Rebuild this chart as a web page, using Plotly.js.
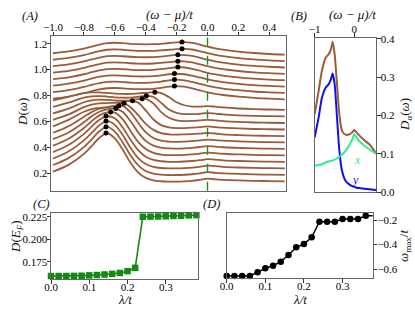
<!DOCTYPE html>
<html><head><meta charset="utf-8">
<script src="https://cdn.plot.ly/plotly-3.0.1.min.js"></script>
<style>html,body{margin:0;padding:0;background:#fff}#plot{width:415px;height:314px}</style>
</head><body><div id="plot"></div>
<script>
// ---------- Panel A: D(omega) for each lambda (raw, before vertical stacking) ----------
const omegaGrid = [-1.0,-0.9,-0.8,-0.75,-0.7,-0.65,-0.6,-0.55,-0.5,-0.45,-0.4,-0.35,-0.3,-0.25,-0.2,-0.15,-0.1,-0.05,0.0,0.05,0.1,0.2,0.3,0.4,0.5];
const lambdas = [0,0.02,0.04,0.06,0.08,0.10,0.12,0.14,0.16,0.18,0.20,0.22,0.24,0.26,0.28,0.30,0.32,0.34,0.36,0.38];
const dos00 = [0.213,0.265,0.350,0.410,0.474,0.509,0.470,0.385,0.285,0.208,0.165,0.146,0.139,0.136,0.136,0.138,0.142,0.150,0.1591,0.154,0.150,0.145,0.142,0.140,0.138];
const dos01 = [0.214,0.267,0.352,0.412,0.474,0.508,0.472,0.390,0.292,0.214,0.168,0.148,0.140,0.137,0.137,0.139,0.143,0.150,0.1591,0.154,0.150,0.145,0.142,0.140,0.138];
const dos02 = [0.214,0.268,0.354,0.412,0.470,0.502,0.474,0.397,0.300,0.220,0.172,0.150,0.141,0.138,0.138,0.140,0.144,0.151,0.1591,0.155,0.150,0.145,0.142,0.140,0.138];
const dos03 = [0.214,0.268,0.354,0.410,0.463,0.490,0.474,0.405,0.312,0.230,0.178,0.153,0.143,0.139,0.139,0.141,0.145,0.151,0.1592,0.155,0.150,0.145,0.142,0.140,0.138];
const dos04 = [0.214,0.267,0.350,0.402,0.447,0.470,0.468,0.418,0.330,0.245,0.188,0.158,0.145,0.140,0.140,0.142,0.146,0.152,0.1594,0.155,0.151,0.146,0.142,0.140,0.138];
const dos05 = [0.214,0.265,0.344,0.390,0.425,0.443,0.450,0.425,0.355,0.268,0.200,0.163,0.148,0.142,0.141,0.143,0.147,0.153,0.1598,0.156,0.151,0.146,0.142,0.140,0.138];
const dos06 = [0.213,0.263,0.336,0.372,0.398,0.410,0.419,0.420,0.372,0.292,0.217,0.172,0.152,0.145,0.143,0.144,0.148,0.154,0.1602,0.156,0.152,0.146,0.142,0.140,0.138];
const dos07 = [0.212,0.262,0.325,0.345,0.355,0.359,0.370,0.391,0.362,0.300,0.232,0.185,0.160,0.151,0.149,0.150,0.152,0.156,0.1608,0.157,0.151,0.145,0.141,0.139,0.137];
const dos08 = [0.212,0.254,0.310,0.330,0.340,0.342,0.344,0.350,0.359,0.345,0.285,0.215,0.172,0.155,0.149,0.149,0.152,0.157,0.1615,0.157,0.152,0.146,0.142,0.140,0.138];
const dos09 = [0.212,0.249,0.298,0.313,0.318,0.316,0.312,0.310,0.313,0.322,0.324,0.288,0.222,0.178,0.159,0.153,0.154,0.158,0.1625,0.158,0.153,0.146,0.142,0.140,0.138];
const dos10 = [0.212,0.245,0.284,0.294,0.296,0.292,0.286,0.283,0.284,0.290,0.298,0.290,0.243,0.192,0.166,0.157,0.156,0.159,0.1645,0.160,0.154,0.147,0.143,0.141,0.139];
const dos11 = [0.212,0.240,0.268,0.274,0.274,0.270,0.265,0.262,0.262,0.266,0.271,0.276,0.268,0.238,0.198,0.175,0.165,0.164,0.1682,0.164,0.158,0.150,0.145,0.142,0.140];
const dos12 = [0.176,0.192,0.218,0.234,0.248,0.256,0.258,0.255,0.251,0.249,0.249,0.252,0.259,0.268,0.273,0.268,0.255,0.240,0.2250,0.213,0.204,0.191,0.182,0.176,0.171];
const dos13 = [0.176,0.191,0.216,0.232,0.246,0.255,0.257,0.254,0.250,0.248,0.248,0.251,0.258,0.267,0.272,0.267,0.255,0.240,0.2251,0.213,0.204,0.191,0.181,0.175,0.170];
const dos14 = [0.176,0.191,0.215,0.231,0.245,0.254,0.256,0.253,0.249,0.247,0.247,0.250,0.256,0.264,0.268,0.264,0.253,0.239,0.2253,0.213,0.204,0.190,0.180,0.174,0.169];
const dos15 = [0.176,0.190,0.214,0.230,0.244,0.254,0.256,0.253,0.249,0.246,0.246,0.248,0.253,0.261,0.268,0.266,0.256,0.241,0.2255,0.213,0.204,0.190,0.180,0.173,0.168];
const dos16 = [0.176,0.190,0.213,0.229,0.243,0.253,0.256,0.253,0.249,0.246,0.245,0.247,0.251,0.258,0.264,0.263,0.255,0.241,0.2258,0.213,0.203,0.189,0.179,0.172,0.167];
const dos17 = [0.176,0.190,0.213,0.228,0.242,0.253,0.256,0.253,0.249,0.246,0.245,0.246,0.250,0.257,0.263,0.262,0.255,0.241,0.2261,0.213,0.203,0.189,0.179,0.172,0.166];
const dos18 = [0.176,0.190,0.212,0.227,0.242,0.253,0.256,0.253,0.248,0.245,0.244,0.245,0.248,0.253,0.258,0.260,0.255,0.242,0.2265,0.214,0.204,0.189,0.178,0.171,0.166];
const dos19 = [0.176,0.190,0.212,0.227,0.243,0.254,0.257,0.254,0.249,0.246,0.245,0.246,0.249,0.255,0.260,0.262,0.256,0.243,0.2268,0.214,0.204,0.189,0.178,0.170,0.165];
// peak positions (panel D) and peak heights
const omegaMax = [-0.657,-0.657,-0.657,-0.657,-0.627,-0.594,-0.573,-0.540,-0.486,-0.423,-0.396,-0.341,-0.214,-0.214,-0.214,-0.192,-0.192,-0.192,-0.165,-0.165];
const peakD = [0.511,0.510,0.504,0.492,0.473,0.450,0.422,0.391,0.360,0.326,0.299,0.276,0.274,0.273,0.269,0.269,0.265,0.264,0.260,0.262];
// panel C: D(E_F)
const dEF = [0.1591,0.1591,0.1591,0.1592,0.1594,0.1598,0.1602,0.1608,0.1615,0.1625,0.1645,0.1682,0.2250,0.2251,0.2253,0.2255,0.2258,0.2261,0.2265,0.2268];
// ---------- Panel B ----------
const bOmega = [-1.0,-0.9,-0.82,-0.72,-0.65,-0.59,-0.546,-0.495,-0.436,-0.376,-0.31,-0.22,-0.12,-0.05,0.0,0.06,0.12,0.25,0.38,0.55];
const bTotal = [0.203,0.264,0.315,0.351,0.359,0.372,0.392,0.359,0.281,0.203,0.160,0.150,0.151,0.156,0.162,0.156,0.149,0.136,0.125,0.102];
const bY = [0.143,0.195,0.245,0.273,0.281,0.294,0.309,0.281,0.195,0.108,0.056,0.030,0.020,0.016,0.0145,0.012,0.011,0.009,0.008,0.006];
const bX = [0.069,0.071,0.073,0.078,0.080,0.082,0.083,0.085,0.088,0.093,0.098,0.108,0.124,0.137,0.151,0.143,0.134,0.122,0.112,0.100];

const dosCurves = [dos00,dos01,dos02,dos03,dos04,dos05,dos06,dos07,dos08,dos09,dos10,dos11,dos12,dos13,dos14,dos15,dos16,dos17,dos18,dos19];
const stackStep = 0.05;
const brown = '#9a5c3a';
const traces = [];
dosCurves.forEach((c, i) => {
  traces.push({x: omegaGrid, y: c.map(v => v + stackStep*i), xaxis:'x', yaxis:'y', mode:'lines',
    line:{color:brown, width:1.8, shape:'spline', smoothing:1}, hoverinfo:'skip'});
});
traces.push({x: omegaMax, y: peakD.map((v,i) => v + stackStep*i), xaxis:'x', yaxis:'y', mode:'markers',
  marker:{color:'#000', size:5}, cliponaxis:false});
// B
traces.push({x:bOmega, y:bTotal, xaxis:'x2', yaxis:'y2', mode:'lines', line:{color:brown, width:2, shape:'spline', smoothing:0.6}});
traces.push({x:bOmega, y:bY, xaxis:'x2', yaxis:'y2', mode:'lines', line:{color:'#1010ee', width:2, shape:'spline', smoothing:0.6}});
traces.push({x:bOmega, y:bX, xaxis:'x2', yaxis:'y2', mode:'lines', line:{color:'#38e88c', width:2, shape:'spline', smoothing:0.4}});
// C
traces.push({x:lambdas, y:dEF, xaxis:'x3', yaxis:'y3', mode:'lines+markers',
  line:{color:'#138a13', width:1.6}, marker:{symbol:'square', size:6.5, color:'#138a13'}, cliponaxis:false});
// D
traces.push({x:lambdas, y:omegaMax, xaxis:'x4', yaxis:'y4', mode:'lines+markers',
  line:{color:'#000', width:1.5}, marker:{symbol:'circle', size:6.5, color:'#000'}, cliponaxis:false});

const tf = {family:'Liberation Serif, serif', size:11, color:'#000'};
const ax = {showline:true, mirror:true, linecolor:'#666', linewidth:1, ticks:'outside', ticklen:3.5, tickwidth:1,
  tickcolor:'#333', showgrid:false, zeroline:false, tickfont:tf, fixedrange:true};
const W = 415, H = 314;
const px = v => v/W, py = v => 1 - v/H;

const layout = {
  width:W, height:H, margin:{l:0,r:0,t:0,b:0}, showlegend:false, paper_bgcolor:'#fff', plot_bgcolor:'#fff',
  xaxis: Object.assign({}, ax, {domain:[px(51), px(285.7)], anchor:'y', side:'top', range:[-1.013,0.506],
    tickvals:[-1,-0.8,-0.6,-0.4,-0.2,0,0.2,0.4], tickformat:'.1f', ticklabelstandoff:-4}),
  yaxis: Object.assign({}, ax, {domain:[py(190.7), py(36)], anchor:'x', range:[0.066,1.259],
    tickvals:[0.2,0.4,0.6,0.8,1.0,1.2], tickformat:'.1f', ticklabelstandoff:-3}),
  xaxis2: Object.assign({}, ax, {domain:[px(314.7), px(376)], anchor:'y2', side:'top', range:[-1.0,0.55],
    tickvals:[-1,0], tickformat:'d', ticklabelstandoff:-4}),
  yaxis2: Object.assign({}, ax, {domain:[py(192.3), py(37.5)], anchor:'x2', side:'right', range:[0,0.403],
    tickvals:[0,0.1,0.2,0.3,0.4], tickformat:'.1f', ticklabelstandoff:-2}),
  xaxis3: Object.assign({}, ax, {domain:[px(51), px(198.3)], anchor:'y3', range:[0,0.385],
    tickvals:[0,0.1,0.2,0.3], tickformat:'.1f', ticklabelstandoff:-6}),
  yaxis3: Object.assign({}, ax, {domain:[py(279), py(213.3)], anchor:'x3', range:[0.1558,0.2288],
    tickvals:[0.175,0.2,0.225], tickformat:'.3f', ticklabelstandoff:-3}),
  xaxis4: Object.assign({}, ax, {domain:[px(226.7), px(372.7)], anchor:'y4', range:[0,0.378],
    tickvals:[0,0.1,0.2,0.3], tickformat:'.1f', ticklabelstandoff:-6}),
  yaxis4: Object.assign({}, ax, {domain:[py(278.3), py(213.3)], anchor:'x4', side:'right', range:[-0.676,-0.145],
    tickvals:[-0.6,-0.4,-0.2], tickformat:'.1f', ticklabelstandoff:-2}),
  shapes:[{type:'line', xref:'x', yref:'y domain', x0:0, x1:0, y0:0, y1:1, line:{color:'#1f8f1f', width:1.4, dash:'dash'}}],
  annotations: []
};
const lab = (txt, x, y, size, angle, color) => ({text:txt, xref:'paper', yref:'paper', x:px(x), y:py(y), showarrow:false,
  xanchor:'center', yanchor:'middle', textangle:angle||0, font:{family:'Liberation Serif, serif', size:size, color:color||'#111'}});
layout.annotations.push(lab('<i>(A)</i>', 30, 16, 12.5));
layout.annotations.push(lab('<i>(ω − μ)/t</i>', 169, 14.5, 13));
layout.annotations.push(lab('<i>(B)</i>', 299, 16, 12.5));
layout.annotations.push(lab('<i>(ω − μ)/t</i>', 352, 14.5, 13));
layout.annotations.push(lab('<i>D</i>(<i>ω</i>)', 23, 112, 13, -90));
layout.annotations.push(lab('<i>D<sub>α</sub></i>(<i>ω</i>)', 405, 115, 13, -90));
layout.annotations.push(lab('<i>(C)</i>', 41, 204, 12.5));
layout.annotations.push(lab('<i>(D)</i>', 211, 204, 12.5));
layout.annotations.push(lab('<i>D</i>(<i>E<sub>F</sub></i>)', 16, 237, 13, -90));
layout.annotations.push(lab('<i>ω</i><sub>max</sub>/<i>t</i>', 404, 246, 13, -90));
layout.annotations.push(lab('<i>λ/t</i>', 125, 299, 13));
layout.annotations.push(lab('<i>λ/t</i>', 300, 299, 13));
layout.annotations.push({text:'<i>x</i>', xref:'x2', yref:'y2', x:0.08, y:0.084, showarrow:false, font:{family:'Liberation Serif, serif', size:12, color:'#38e88c'}});
layout.annotations.push({text:'<i>y</i>', xref:'x2', yref:'y2', x:0.02, y:0.032, showarrow:false, font:{family:'Liberation Serif, serif', size:12, color:'#1010ee'}});

Plotly.newPlot('plot', traces, layout, {displayModeBar:false, staticPlot:true});
</script></body></html>
